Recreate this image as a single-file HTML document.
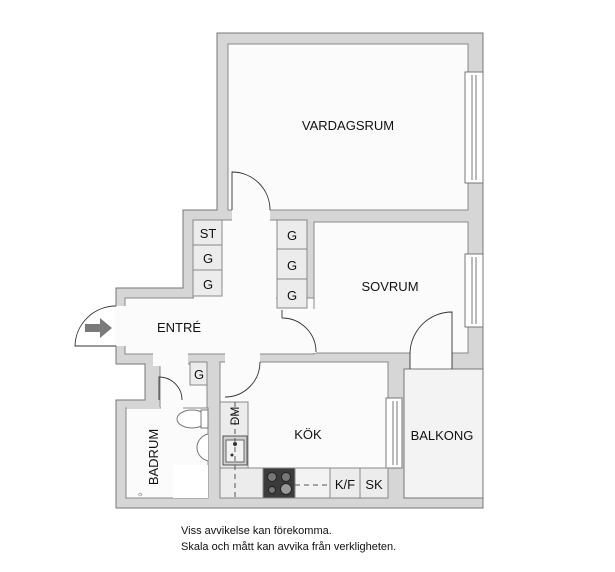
<!DOCTYPE html>
<html><head><meta charset="utf-8"><style>
html,body{margin:0;padding:0;background:#fff;}
svg{display:block;}
text{font-family:"Liberation Sans",Arial,sans-serif;fill:#111;}
</style></head><body>
<svg width="615" height="572" viewBox="0 0 615 572" xmlns="http://www.w3.org/2000/svg">
<!-- footprint walls -->
<polygon points="217,33 483,33 483,508 116,508 116,400 145,400 145,364 116,364 116,288 183,288 183,210 217,210" fill="#d6d6d6" stroke="#777" stroke-width="1"/>
<g fill="#fbfbfb" stroke="#888" stroke-width="1">
<rect x="228" y="44" width="240" height="166"/>
<rect x="193" y="220" width="84" height="80"/>
<rect x="125" y="298" width="189" height="56"/>
<rect x="314" y="222" width="154" height="131"/>
<rect x="126" y="408" width="82" height="90"/>
<rect x="160" y="364" width="47" height="44"/>
<rect x="220" y="362" width="168" height="136"/>
</g>
<g fill="#fbfbfb">
<rect x="232" y="209" width="38" height="13"/>
<rect x="194" y="290" width="82" height="12"/>
<rect x="278" y="299" width="35" height="10"/>
<rect x="126" y="299" width="60" height="10"/>
<rect x="153" y="353" width="35" height="13"/>
<rect x="161" y="355" width="27" height="12"/>
<rect x="225" y="351" width="35" height="12"/>
<rect x="306" y="309" width="10" height="44"/>
<rect x="161" y="399" width="22" height="10"/>
<rect x="410" y="352" width="42" height="18"/>
<rect x="115" y="306" width="11" height="40"/>
<rect x="127" y="407" width="33" height="2" fill="#d6d6d6"/>
</g>
<!-- balcony -->
<rect x="404" y="369" width="79" height="129" fill="#f3f3f3" stroke="#777"/>
<!-- storage columns -->
<g fill="#ececec" stroke="#888">
<rect x="193" y="220" width="29" height="25"/>
<rect x="193" y="245" width="29" height="25"/>
<rect x="193" y="270" width="29" height="26"/>
<rect x="277" y="220" width="30" height="29"/>
<rect x="277" y="249" width="30" height="30"/>
<rect x="277" y="279" width="30" height="29"/>
<rect x="190" y="362" width="17" height="23"/>
</g>
<g font-size="13" text-anchor="middle">
<text x="208" y="238">ST</text><text x="208" y="263">G</text><text x="208" y="289">G</text>
<text x="292" y="240">G</text><text x="292" y="270">G</text><text x="292" y="300">G</text>
<text x="199" y="379">G</text>
</g>
<!-- windows -->
<g fill="#fff" stroke="#777">
<rect x="465" y="72" width="18" height="111"/>
<line x1="472" y1="75" x2="472" y2="180"/><line x1="476" y1="75" x2="476" y2="180"/>
<rect x="465" y="254" width="18" height="73"/>
<line x1="472" y1="257" x2="472" y2="324"/><line x1="476" y1="257" x2="476" y2="324"/>
<rect x="386" y="398" width="16" height="70"/>
<line x1="393" y1="401" x2="393" y2="465"/><line x1="397" y1="401" x2="397" y2="465"/>
</g>
<!-- doors -->
<g fill="none" stroke="#333" stroke-width="0.9">
<path d="M232,210 L232,172 A38,38 0 0 1 270,210"/>
<path d="M282,318 A34,34 0 0 1 316,352 M282,318 L282,310"/>
<path d="M452,369 L452,312 A42,42 0 0 0 410,354 L410,369"/>
<path d="M260,362 A35,35 0 0 1 225,397"/>
<path d="M159,400 L159,377 A23,23 0 0 1 182,400"/>
<path d="M116,306 A41,41 0 0 0 75,346 L116,346"/>
</g>
<!-- entry arrow -->
<polygon points="85,324 100,324 100,318 112,328 100,338 100,332 85,332" fill="#7a7a7a"/>
<!-- kitchen -->
<g stroke="#888" fill="#ececec">
<rect x="220" y="402" width="28" height="66"/>
<rect x="220" y="468" width="43" height="30"/>
<rect x="263" y="468" width="32" height="30" fill="#3b3b3b"/>
<rect x="295" y="468" width="35" height="30" fill="#f3f3f3"/>
<rect x="330" y="468" width="30" height="30"/>
<rect x="360" y="468" width="28" height="30"/>
</g>
<rect x="223" y="436" width="24" height="29" fill="#cfcfcf" stroke="#555"/>
<rect x="226" y="440" width="18" height="22" fill="#f3f3f3" stroke="#666"/>
<circle cx="235" cy="444" r="2" fill="#333"/><circle cx="232" cy="455" r="1.5" fill="#333"/>
<line x1="235" y1="402" x2="235" y2="498" stroke="#555" stroke-dasharray="5,4"/>
<line x1="295" y1="485" x2="330" y2="485" stroke="#555" stroke-dasharray="5,4"/>
<g fill="#777" stroke="#222"><circle cx="272" cy="477" r="4.5"/><circle cx="286" cy="477" r="4.5"/><circle cx="272" cy="490" r="3.5"/><circle cx="286" cy="489" r="5.5" fill="#999"/></g>
<text x="235" y="416" font-size="12" text-anchor="middle" transform="rotate(-90 235 416)" dy="4">DM</text>
<!-- bathroom -->
<ellipse cx="192" cy="419" rx="15" ry="9" fill="#fff" stroke="#777"/>
<rect x="201" y="410" width="7" height="18" fill="#fff" stroke="#777"/>
<path d="M208,434 A15,14 0 0 0 208,461" fill="#fff" stroke="#777"/>
<rect x="173" y="465" width="35" height="33" fill="#fff"/>
<text x="137" y="496" font-size="7">☼</text>
<text x="153" y="457" font-size="13" text-anchor="middle" transform="rotate(-90 153 457)" dy="5">BADRUM</text>
<!-- labels -->
<g font-size="13" text-anchor="middle">
<text x="348" y="130">VARDAGSRUM</text>
<text x="390" y="291">SOVRUM</text>
<text x="179" y="332">ENTRÉ</text>
<text x="308" y="439">KÖK</text>
<text x="442" y="440">BALKONG</text>
<text x="345" y="489">K/F</text>
<text x="374" y="489">SK</text>
</g>
<text x="181" y="534" font-size="11">Viss avvikelse kan förekomma.</text>
<text x="181" y="550" font-size="11">Skala och mått kan avvika från verkligheten.</text>
</svg>
</body></html>
